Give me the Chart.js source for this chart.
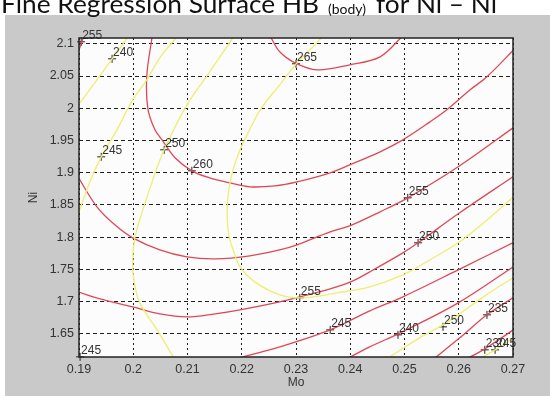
<!DOCTYPE html>
<html>
<head>
<meta charset="utf-8">
<script src="https://cdn.jsdelivr.net/npm/chart.js@4"></script>
<style>
  html, body { margin: 0; padding: 0; background: #fff; }
</style>
</head>
<body>
<canvas id="chart" width="550" height="396"></canvas>
<script>
// contour lines, each point is [Mo, Ni]
const red265 = [[0.2252, 2.1124], [0.2270, 2.0876], [0.2298, 2.0705], [0.2339, 2.0596], [0.2399, 2.0674], [0.2455, 2.0798], [0.2497, 2.1124]];
const red260 = [[0.2035, 2.1124], [0.2025, 2.0503], [0.2027, 1.9991], [0.2040, 1.9665], [0.2053, 1.9510], [0.2077, 1.9231],
  [0.2108, 1.9029], [0.2141, 1.8920], [0.2178, 1.8843], [0.2215, 1.8781], [0.2261, 1.8796], [0.2302, 1.8858], [0.2363, 1.8998],
  [0.2399, 1.9122], [0.2455, 1.9324], [0.2497, 1.9510], [0.2547, 1.9789], [0.2578, 1.9976], [0.2621, 2.0286], [0.2652, 2.0488], [0.2704, 2.0930]];
const red255 = [[0.1898, 1.8936], [0.1933, 1.8470], [0.1966, 1.8191], [0.1999, 1.7989], [0.2049, 1.7803], [0.2099, 1.7694],
  [0.2151, 1.7663], [0.2215, 1.7710], [0.2270, 1.7803], [0.2302, 1.7880], [0.2363, 1.8082], [0.2399, 1.8175], [0.2455, 1.8393],
  [0.2506, 1.8610], [0.2599, 1.9091], [0.2704, 1.9720]];
const red250 = [[0.1898, 1.7151], [0.1939, 1.7042], [0.1999, 1.6918], [0.2049, 1.6810], [0.2099, 1.6763], [0.2151, 1.6810],
  [0.2197, 1.6872], [0.2270, 1.6996], [0.2307, 1.7074], [0.2363, 1.7198], [0.2405, 1.7322], [0.2436, 1.7461], [0.2497, 1.7756],
  [0.2525, 1.7912], [0.2599, 1.8362], [0.2704, 1.8960]];
const red245 = [[0.2188, 1.6111], [0.2270, 1.6297], [0.2363, 1.6561], [0.2436, 1.6856], [0.2497, 1.7074], [0.2599, 1.7492], [0.2704, 1.7930]];
const red240 = [[0.2390, 1.6096], [0.2436, 1.6297], [0.2492, 1.6515], [0.2599, 1.6980], [0.2704, 1.7560]];
const red235 = [[0.2547, 1.6065], [0.2602, 1.6437], [0.2652, 1.6794], [0.2704, 1.7080]];
const red230 = [[0.2611, 1.6096], [0.2648, 1.6266], [0.2704, 1.6580]];
const redCorner = [[0.1898, 2.0860], [0.1904, 2.1000], [0.1909, 2.1124]];

const yellow255 = [[0.2350, 2.1124], [0.2326, 2.0907], [0.2302, 2.0705], [0.2270, 2.0364], [0.2234, 1.9976], [0.2210, 1.9588],
  [0.2197, 1.9355], [0.2184, 1.9044], [0.2176, 1.8734], [0.2173, 1.8377], [0.2176, 1.8036], [0.2184, 1.7803], [0.2197, 1.7539],
  [0.2224, 1.7306], [0.2270, 1.7105], [0.2313, 1.7058], [0.2376, 1.7136], [0.2436, 1.7229], [0.2497, 1.7415], [0.2547, 1.7648],
  [0.2599, 1.7912], [0.2648, 1.8237], [0.2704, 1.8650]];
const yellow250 = [[0.2077, 1.6096], [0.2044, 1.6561], [0.2012, 1.6980], [0.2001, 1.7337], [0.1999, 1.7648], [0.2003, 1.7989],
  [0.2016, 1.8377], [0.2036, 1.8889], [0.2057, 1.9355], [0.2099, 2.0053], [0.2141, 2.0565], [0.2186, 2.1124]];
const yellow245 = [[0.1898, 1.8346], [0.1920, 1.8858], [0.1941, 1.9246], [0.1970, 1.9665], [0.1999, 2.0131], [0.2025, 2.0441],
  [0.2049, 2.0783], [0.2082, 2.1124]];
const yellow240 = [[0.1898, 2.0040], [0.1929, 2.0395], [0.1961, 2.0767], [0.1992, 2.1124]];
const yellow250b = [[0.2464, 1.6096], [0.2528, 1.6437], [0.2571, 1.6639], [0.2599, 1.6794], [0.2648, 1.7089], [0.2704, 1.7390]];
const yellow245b = [[0.2635, 1.6096], [0.2670, 1.6266], [0.2704, 1.6453]];

// contour labels
const labelMo = [0.1961, 0.1941, 0.2057, 0.2108, 0.2300, 0.2506, 0.2525, 0.2307, 0.2363, 0.2488, 0.2571, 0.2652, 0.2648, 0.2667, 0.1902, 0.1904];
const labelNi = [2.0767, 1.9246, 1.9355, 1.9029, 2.0690, 1.8610, 1.7912, 1.7058, 1.6561, 1.6484, 1.6608, 1.6794, 1.6251, 1.6251, 1.6142, 2.1031];
const labelText = ['240', '245', '250', '260', '265', '255', '250', '255', '245', '240', '250', '235', '230', '245', '245', '255'];

const xTicks = [0.19, 0.2, 0.21, 0.22, 0.23, 0.24, 0.25, 0.26, 0.27];
const yTicks = [1.65, 1.7, 1.75, 1.8, 1.85, 1.9, 1.95, 2, 2.05, 2.1];

const RED = 'rgb(222,72,86)';
const YELLOW = 'rgb(238,238,112)';

const toPts = (arr) => arr.map(([x, y]) => ({ x, y }));
const line = (arr, color) => ({
  data: toPts(arr), showLine: true, borderColor: color, borderWidth: 1.3,
  pointRadius: 0, tension: 0.35, fill: false,
});

const datasets = [
  line(yellow240, YELLOW), line(yellow245, YELLOW), line(yellow250, YELLOW), line(yellow255, YELLOW),
  line(yellow250b, YELLOW), line(yellow245b, YELLOW),
  line(red265, RED), line(red260, RED), line(red255, RED), line(red250, RED), line(red245, RED),
  line(red240, RED), line(red235, RED), line(red230, RED), line(redCorner, RED),
  {
    data: labelMo.map((x, i) => ({ x, y: labelNi[i] })), showLine: false,
    pointStyle: 'cross', pointRadius: 4, borderColor: '#222', borderWidth: 1, clip: false,
  },
];

const fmt = (v) => String(+(+v).toFixed(3));

const frame = {
  id: 'frame',
  beforeDraw(chart) {
    const { ctx, chartArea: a } = chart;
    ctx.save();
    ctx.fillStyle = '#fff';
    ctx.fillRect(0, 0, 550, 396);
    ctx.fillStyle = '#c9c9c9';
    ctx.fillRect(5, 15, 545, 381);
    ctx.fillStyle = '#fcfcfc';
    ctx.fillRect(a.left, a.top, a.right - a.left, a.bottom - a.top);

    // title, cut off at the top edge; stretched to the width it has in the picture
    ctx.fillStyle = '#111';
    ctx.textBaseline = 'alphabetic';
    ctx.font = '25px Lato';
    const head = 'Fine Regression Surface HB';
    const sx = 318 / ctx.measureText(head).width;
    ctx.save();
    ctx.translate(1, 13);
    ctx.scale(sx, 1);
    ctx.fillText(head, 0, 0);
    ctx.restore();
    ctx.font = '14px Lato';
    ctx.fillText('(body)', 328, 14);
    ctx.save();
    ctx.translate(376, 13);
    ctx.scale(sx, 1);
    ctx.font = '25px Lato';
    ctx.fillText('for Ni – Ni', 0, 0);
    ctx.restore();
    ctx.restore();
  },
  afterDatasetsDraw(chart) {
    const { ctx, scales } = chart;
    ctx.save();
    ctx.fillStyle = '#333';
    ctx.font = '12px "Liberation Sans"';
    ctx.textAlign = 'left';
    ctx.textBaseline = 'alphabetic';
    labelText.forEach((t, i) => {
      const px = scales.x.getPixelForValue(labelMo[i]);
      const py = scales.y.getPixelForValue(labelNi[i]);
      ctx.fillText(t, px + 1, py - 3);
    });
    ctx.restore();
  },
  afterDraw(chart) {
    const { ctx, chartArea: a } = chart;
    ctx.save();
    ctx.strokeStyle = '#222';
    ctx.lineWidth = 1.5;
    ctx.strokeRect(a.left, a.top, a.right - a.left, a.bottom - a.top);

    ctx.fillStyle = '#333';
    ctx.font = '12px "Liberation Sans"';
    ctx.textAlign = 'center';
    ctx.textBaseline = 'middle';
    ctx.fillText('Mo', (a.left + a.right) / 2, 383);
    ctx.translate(34, (a.top + a.bottom) / 2);
    ctx.rotate(-Math.PI / 2);
    ctx.fillText('Ni', 0, 0);
    ctx.restore();
  },
};

new Chart(document.getElementById('chart'), {
  type: 'scatter',
  data: { datasets },
  plugins: [frame],
  options: {
    responsive: false,
    animation: false,
    devicePixelRatio: 1,
    layout: { padding: { left: 0, top: 38, right: 37, bottom: 0 } },
    plugins: { legend: { display: false }, tooltip: { enabled: false } },
    scales: {
      x: {
        type: 'linear', min: 0.19, max: 0.27,
        afterBuildTicks: (s) => { s.ticks = xTicks.map((value) => ({ value })); },
        afterFit: (s) => { s.height = 39; },
        ticks: { callback: fmt, color: '#333', font: { family: 'Liberation Sans', size: 12.5 }, padding: 5, maxRotation: 0, autoSkip: false },
        grid: { color: '#1e1e1e', lineWidth: 1, drawTicks: false },
        border: { display: false, dash: [2, 3] },
      },
      y: {
        type: 'linear', min: 1.614, max: 2.109,
        afterBuildTicks: (s) => { s.ticks = yTicks.map((value) => ({ value })); },
        afterFit: (s) => { s.width = 79; },
        ticks: { callback: fmt, color: '#333', font: { family: 'Liberation Sans', size: 12.5 }, padding: 5, autoSkip: false },
        grid: { color: '#1e1e1e', lineWidth: 1, drawTicks: false },
        border: { display: false, dash: [4, 3] },
      },
    },
  },
});
</script>
</body>
</html>
